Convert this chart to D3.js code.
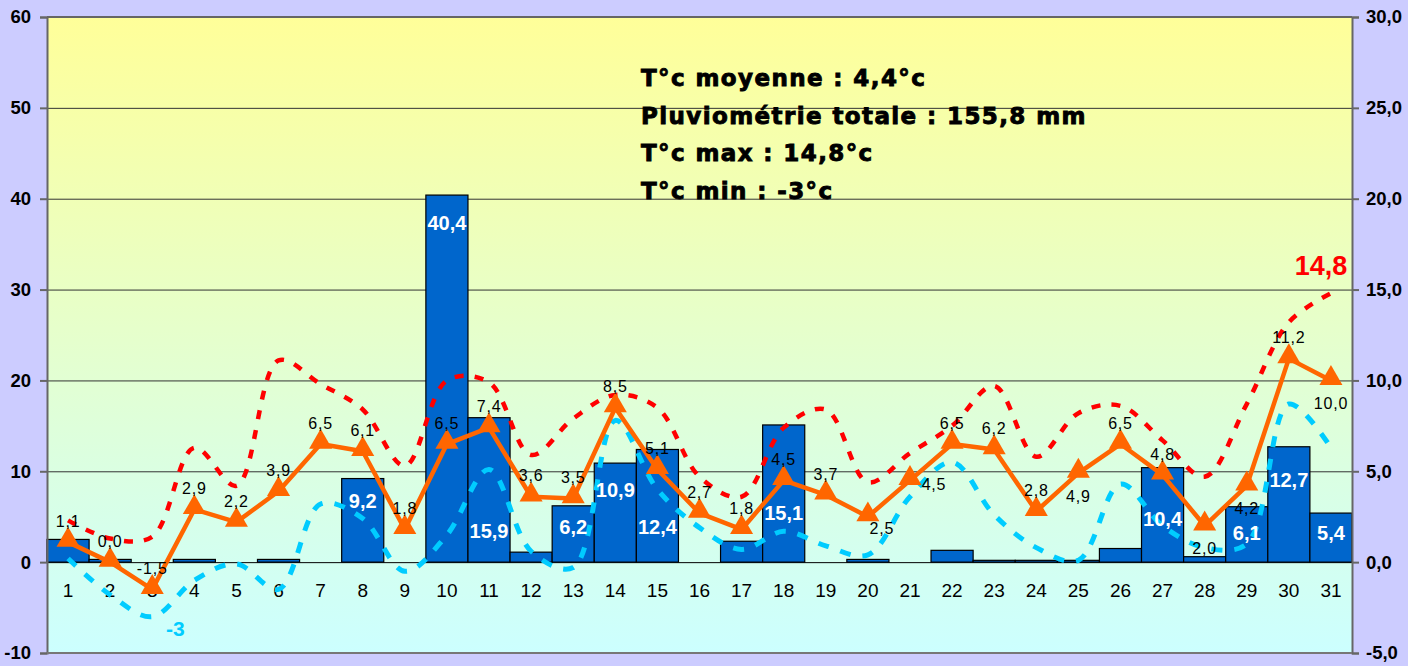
<!DOCTYPE html>
<html><head><meta charset="utf-8">
<script src="https://cdn.jsdelivr.net/npm/d3@7"></script>
<style>
body{margin:0;background:#CCCCFF;}
svg{display:block;font-family:Arial,"Liberation Sans",sans-serif;}
</style>
</head><body>
<svg id="c" width="1408" height="666"></svg>
<script>
// ---------- data ----------
const days = ["1","2","3","4","5","6","7","8","9","10","11","12","13","14","15","16","17","18","19","20","21","22","23","24","25","26","27","28","29","30","31"];
const rain = [2.5,0.3,0,0.3,0,0.3,0,9.2,0,40.4,15.9,1.1,6.2,10.9,12.4,0,2.3,15.1,0,0.3,0,1.3,0.2,0.2,0.2,1.5,10.4,0.6,6.1,12.7,5.4];
const tMean = [1.1,0.0,-1.5,2.9,2.2,3.9,6.5,6.1,1.8,6.5,7.4,3.6,3.5,8.5,5.1,2.7,1.8,4.5,3.7,2.5,4.5,6.5,6.2,2.8,4.9,6.5,4.8,2.0,4.2,11.2,10.0];
const tMax = [2.3,1.3,1.4,6.3,4.2,11.1,9.8,8.4,5.3,10.0,9.9,5.9,7.9,9.2,8.5,4.7,3.6,7.4,8.4,4.4,6.0,7.5,9.7,5.8,8.2,8.6,6.7,4.7,8.7,13.2,14.8];
const tMin = [0.2,-1.8,-3.0,-1.0,-0.1,-1.5,3.2,2.4,-0.5,1.5,5.1,0.6,-0.3,7.8,4.0,1.9,0.7,1.7,0.9,0.4,3.6,5.5,2.6,0.8,0.1,4.3,2.0,0.8,1.0,8.7,6.3];
const leftTicks = [-10,0,10,20,30,40,50,60];
const rightTicks = [-5,0,5,10,15,20,25,30];
const summary = ["T°c moyenne : 4,4°c","Pluviométrie totale : 155,8 mm","T°c max : 14,8°c","T°c min : -3°c"];
const maxLabel = "14,8";
const minLabel = "-3";

// ---------- layout (not data) ----------
const rainLabelMin = 5;           // bars >= this get a white label
const rainLabelAt = {8:6.8,10:37.4,11:3.5,13:3.9,14:8.0,15:3.9,18:5.4,27:4.8,29:3.2,30:9.1,31:3.2}; // label centre, left-axis units
const meanLabelSide = {20:"belowRight",21:"right",25:"below",28:"below",29:"below",31:"below"};

const M = {left:47, right:1352, top:17, bottom:653};
const fmt1 = v => d3.format(".1f")(v).replace(".", ",").replace("\u2212","-");

const svg = d3.select("#c");
const defs = svg.append("defs");
const grad = defs.append("linearGradient").attr("id","bg").attr("x1",0).attr("y1",0).attr("x2",0).attr("y2",1);
grad.append("stop").attr("offset","0%").attr("stop-color","#FFFF99");
grad.append("stop").attr("offset","100%").attr("stop-color","#CCFFFF");

const x = d3.scaleBand().domain(days).range([M.left, M.right]).padding(0);
const yL = d3.scaleLinear().domain([-10,60]).range([M.bottom, M.top]);
const yR = d3.scaleLinear().domain([-5,30]).range([M.bottom, M.top]);
const cx = i => x(days[i]) + x.bandwidth()/2;

// plot background
svg.append("rect").attr("x",M.left).attr("y",M.top).attr("width",M.right-M.left).attr("height",M.bottom-M.top).attr("fill","url(#bg)");

// gridlines
svg.append("g").selectAll("line").data(leftTicks.filter(t=>t>-10 && t<60)).join("line")
  .attr("x1",M.left).attr("x2",M.right).attr("y1",d=>yL(d)+0.5).attr("y2",d=>yL(d)+0.5)
  .attr("stroke",d=>d===0?"#000":"#333").attr("stroke-width",1);

// bars
svg.append("g").selectAll("rect").data(rain.map((v,i)=>({v,i})).filter(d=>d.v>0)).join("rect")
  .attr("x",d=>x(days[d.i])).attr("width",x.bandwidth())
  .attr("y",d=>yL(d.v)).attr("height",d=>yL(0)-yL(d.v))
  .attr("fill","#0066CC").attr("stroke","#000").attr("stroke-width",1.2);

// frame / axes
const axL = svg.append("g").attr("transform",`translate(${M.left},0)`)
  .call(d3.axisLeft(yL).tickValues(leftTicks).tickSize(7).tickFormat(d=>String(d)));
const axR = svg.append("g").attr("transform",`translate(${M.right},0)`)
  .call(d3.axisRight(yR).tickValues(rightTicks).tickSize(7).tickFormat(fmt1));
[axL,axR].forEach(a=>{
  a.select(".domain").attr("stroke","#666").attr("stroke-width",2);
  a.selectAll(".tick line").attr("stroke","#666").attr("stroke-width",2);
  a.selectAll(".tick text").attr("font-size",18.5).attr("font-weight","bold").attr("fill","#000")
   .attr("font-family",'Arial,"Liberation Sans",sans-serif');
});
axL.selectAll(".tick text").attr("x",-16);
axR.selectAll(".tick text").attr("x",14);
svg.append("line").attr("x1",M.left).attr("x2",M.right).attr("y1",M.top).attr("y2",M.top).attr("stroke","#666").attr("stroke-width",2);
svg.append("line").attr("x1",M.left).attr("x2",M.right).attr("y1",M.bottom).attr("y2",M.bottom).attr("stroke","#777").attr("stroke-width",2);

// category labels
svg.append("g").selectAll("text").data(days).join("text")
  .attr("x",(d,i)=>cx(i)).attr("y",yL(0)+35).attr("text-anchor","middle")
  .attr("font-size",19).attr("fill","#000").text(d=>d);

// lines
const smooth = d3.line().x((d,i)=>cx(i)).y(d=>yR(d)).curve(d3.curveCatmullRom.alpha(0.5));
svg.append("path").datum(tMax).attr("d",smooth).attr("fill","none")
  .attr("stroke","#FF0000").attr("stroke-width",4.5).attr("stroke-dasharray","9,11");
svg.append("path").datum(tMin).attr("d",smooth).attr("fill","none")
  .attr("stroke","#00CCFF").attr("stroke-width",5).attr("stroke-dasharray","11,12");
const straight = d3.line().x((d,i)=>cx(i)).y(d=>yR(d));
svg.append("path").datum(tMean).attr("d",straight).attr("fill","none")
  .attr("stroke","#FF6600").attr("stroke-width",4.5).attr("stroke-linejoin","round");
svg.append("g").selectAll("path").data(tMean).join("path")
  .attr("transform",(d,i)=>`translate(${cx(i)},${yR(d)-2})`)
  .attr("d",d3.symbol(d3.symbolTriangle,230)).attr("fill","#FF6600");

// rain labels
svg.append("g").selectAll("text").data(rain.map((v,i)=>({v,i})).filter(d=>d.v>=rainLabelMin)).join("text")
  .attr("x",d=>cx(d.i)).attr("y",d=>yL(rainLabelAt[d.i+1]))
  .attr("dy","0.36em").attr("text-anchor","middle")
  .attr("font-size",20).attr("font-weight","bold").attr("fill","#fff")
  .text(d=>fmt1(d.v));

// mean labels
svg.append("g").selectAll("text").data(tMean.map((v,i)=>({v,i}))).join("text")
  .each(function(d){
    const side = meanLabelSide[d.i+1] || "above";
    let dx=0, dy=-21;
    if(side==="below"){dy=23;}
    if(side==="belowRight"){dx=14;dy=12;}
    if(side==="right"){dx=24;dy=4;}
    d3.select(this).attr("x",cx(d.i)+dx).attr("y",yR(d.v)+dy).attr("dy","0.35em")
      .attr("text-anchor","middle");
  })
  .attr("font-size",16).attr("letter-spacing",0.8).attr("fill","#000").text(d=>fmt1(d.v));

// extreme labels
const iMax = tMax.indexOf(d3.max(tMax)), iMin = tMin.indexOf(d3.min(tMin));
svg.append("text").attr("x",cx(iMax)-10).attr("y",yR(tMax[iMax])-28).attr("dy","0.35em")
  .attr("text-anchor","middle").attr("font-size",27).attr("font-weight","bold").attr("fill","#FF0000").text(maxLabel);
svg.append("text").attr("x",cx(iMin)+23).attr("y",yR(tMin[iMin])+12).attr("dy","0.35em")
  .attr("text-anchor","middle").attr("font-size",21).attr("font-weight","bold").attr("fill","#00CCFF").text(minLabel);

// summary text (heavy face)
svg.append("g").selectAll("text").data(summary).join("text")
  .attr("x",641).attr("y",(d,i)=>86+i*37.7)
  .attr("font-family",'"DejaVu Sans",Verdana,sans-serif')
  .attr("font-size",23).attr("font-weight","bold").attr("letter-spacing",1.4)
  .attr("fill","#000").attr("stroke","#000").attr("stroke-width",0.9)
  .text(d=>d);
</script>
</body></html>
